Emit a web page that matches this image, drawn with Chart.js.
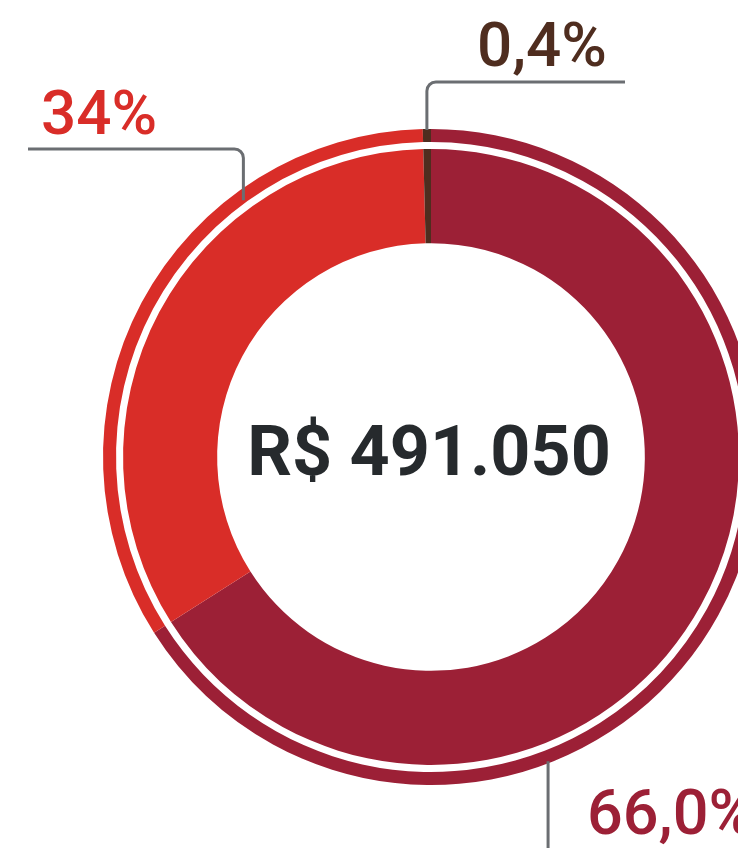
<!DOCTYPE html>
<html lang="pt-BR">
<head>
<meta charset="utf-8">
<title>Total R$ 491.050</title>
<script src="https://cdn.jsdelivr.net/npm/chart.js@4.4.1/dist/chart.umd.min.js"></script>
<style>
  html, body { margin: 0; padding: 0; background: #fff; overflow: hidden; }
  #wrap { position: absolute; left: 0; top: 0; }
</style>
</head>
<body>
<div id="wrap"><canvas id="rosca" width="900" height="960" style="width:900px;height:960px"></canvas></div>
<script>
// dados
const categorias = ['Parcela 1', 'Parcela 2', 'Parcela 3'];
const valores = [66.0, 33.6, 0.4];
const rotulos = ['66,0%', '34%', '0,4%'];
const cores = ['#9c2036', '#d92d28', '#4f2d1f'];
const total = 'R$ 491.050';

// rótulos com linha guia (posição no arco = fração dentro da fatia)
const guias = [
  { fatia: 1, frac: 0.713, raio: 318, dobra: 149, fimX: 28, textoX: 41, textoY: 134, fonte: '500 62px' },
  { fatia: 2, frac: 0.5, raio: 327, dobra: 82, fimX: 625, textoX: 477, textoY: 66, fonte: '500 62px' },
  { fatia: 0, frac: 0.669, raio: 326, dobra: null, fimY: 860, textoX: 587, textoY: 834, fonte: '500 63px' }
];

const pluginTextos = {
  id: 'textos',
  afterDatasetsDraw(chart) {
    const c = chart.ctx;
    const meta = chart.getDatasetMeta(0);
    const cx = meta.data[0].x, cy = meta.data[0].y;

    // valor central
    c.save();
    c.fillStyle = '#262a2d';
    c.font = 'bold 70px Roboto';
    c.textAlign = 'center';
    c.textBaseline = 'alphabetic';
    c.fillText(total, cx - 2, cy + 18);
    c.restore();

    guias.forEach(g => {
      const arc = meta.data[g.fatia];
      const ang = arc.startAngle + (arc.endAngle - arc.startAngle) * g.frac;
      const ax = cx + Math.cos(ang) * g.raio;
      const ay = cy + Math.sin(ang) * g.raio;
      c.save();
      c.strokeStyle = '#6b6e72';
      c.lineWidth = 3;
      c.beginPath();
      c.moveTo(ax, ay);
      if (g.dobra !== null) {
        c.arcTo(ax, g.dobra, g.fimX, g.dobra, 9);
        c.lineTo(g.fimX, g.dobra);
      } else {
        c.lineTo(ax, g.fimY);
      }
      c.stroke();
      c.fillStyle = cores[g.fatia];
      c.font = g.fonte + ' Roboto';
      c.textBaseline = 'alphabetic';
      c.fillText(rotulos[g.fatia], g.textoX, g.textoY);
      c.restore();
    });
  }
};

new Chart(document.getElementById('rosca'), {
  type: 'doughnut',
  data: {
    labels: categorias,
    datasets: [
      { data: valores, backgroundColor: cores, borderWidth: 0, weight: 13 },
      { data: valores, backgroundColor: 'rgba(0,0,0,0)', borderWidth: 0, weight: 7 },
      { data: valores, backgroundColor: cores, borderWidth: 0, weight: 94 }
    ]
  },
  options: {
    responsive: false,
    animation: false,
    devicePixelRatio: 1,
    cutout: '65.2%',
    hoverOffset: 0,
    layout: { padding: { left: 103, right: 141, top: 129, bottom: 175 } },
    plugins: { legend: { display: false }, tooltip: { enabled: false } }
  },
  plugins: [pluginTextos]
});
</script>
</body>
</html>
